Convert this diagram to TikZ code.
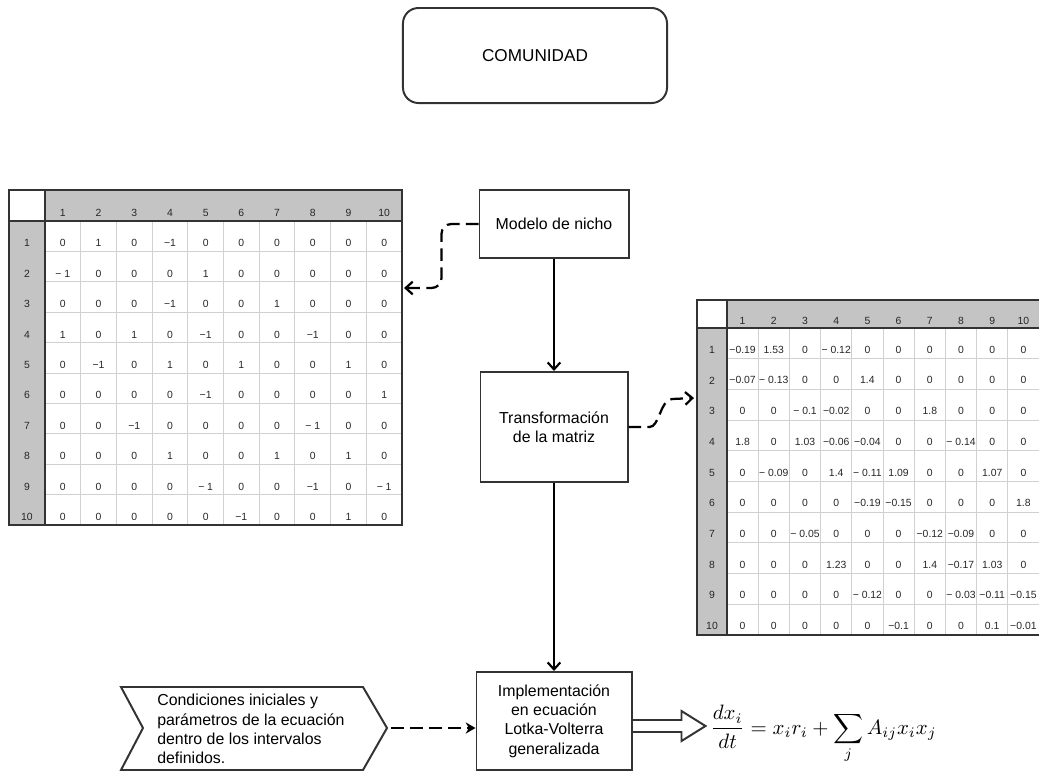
\documentclass[tikz,border=0pt]{standalone}
\usepackage{amsmath}
\usepackage{fontspec}
\setmainfont{Liberation Sans}
\usetikzlibrary{arrows.meta, positioning}

\definecolor{hdrgray}{HTML}{C4C4C4}
\definecolor{gridgray}{HTML}{D0D0D0}
\definecolor{boxline}{HTML}{333333}

\tikzset{
  flowbox/.style={draw=boxline, line width=1.4pt, align=center, inner sep=2pt, font=\fontsize{11.3}{13.8}\selectfont},
  cellnum/.style={inner sep=0pt, font=\fontsize{7.4}{9}\selectfont, text=black!85},
  gridline/.style={gridgray, line width=0.6pt},
  flowarrow/.style={line width=1.5pt, -{Straight Barb[length=5pt, width=9pt]}},
  dasharrow/.style={line width=1.6pt, dash pattern=on 9pt off 4.5pt, -{Straight Barb[length=5pt, width=9pt]}},
}

\begin{document}
\begin{tikzpicture}[x=0.025cm, y=-0.025cm]
\useasboundingbox (0,0) rectangle (1039,772);

\node[flowbox, rounded corners=11pt, minimum width=6.6cm, minimum height=2.375cm, font=\fontsize{12.2}{14}\selectfont] (comunidad) at (535,55.5) {COMUNIDAD};

% flow boxes
\node[flowbox, minimum width=3.725cm, minimum height=1.7cm] (nicho) at (554,224) {Modelo de nicho};
\node[flowbox, minimum width=3.675cm, minimum height=2.75cm] (trans) at (554,427) {Transformación\\de la matriz};
\node[flowbox, minimum width=3.875cm, minimum height=2.45cm] (impl) at (554,721) {Implementación\\en ecuación\\Lotka-Volterra\\generalizada};

% adjacency matrix (niche model)
\fill[hdrgray] (45,190) rectangle (402,221);
\fill[hdrgray] (9,221) rectangle (45,525);
\foreach \k in {1,...,9} {
  \draw[gridline] ({45+\k*35.7},221) -- ({45+\k*35.7},525);
  \draw[gridline] (45,{221+\k*30.4}) -- (402,{221+\k*30.4});
}
\draw[boxline, line width=1.8pt] (45,190) -- (45,525) (9,221) -- (402,221);
\draw[boxline, line width=1pt] (9,190) rectangle (402,525);
\foreach \k in {1,...,10} {
  \node[cellnum] (lc\k) at ({45+\k*35.7-17.85},213) {\k};
  \node[cellnum] (lr\k) at (27,{221+\k*30.4-8}) {\k};
}
\foreach \row [count=\i] in {
  {0,1,0,−1,0,0,0,0,0,0},
  {− 1,0,0,0,1,0,0,0,0,0},
  {0,0,0,−1,0,0,1,0,0,0},
  {1,0,1,0,−1,0,0,−1,0,0},
  {0,−1,0,1,0,1,0,0,1,0},
  {0,0,0,0,−1,0,0,0,0,1},
  {0,0,−1,0,0,0,0,− 1,0,0},
  {0,0,0,1,0,0,1,0,1,0},
  {0,0,0,0,− 1,0,0,−1,0,− 1},
  {0,0,0,0,0,−1,0,0,1,0}} {
  \foreach \v [count=\j] in \row
    \node[cellnum] (l\i-\j) at ({45+\j*35.7-17.85},{221+\i*30.4-8}) {\v};
}
\coordinate (lmat) at (404,288);

% transformed interaction matrix
\fill[hdrgray] (727,300) rectangle (1041,328);
\fill[hdrgray] (697,328) rectangle (727,635);
\foreach \k in {1,...,9} {
  \draw[gridline] ({727+\k*31.2},328) -- ({727+\k*31.2},635);
  \draw[gridline] (727,{328+\k*30.7}) -- (1041,{328+\k*30.7});
}
\draw[boxline, line width=1.8pt] (727,300) -- (727,635) (697,328) -- (1041,328);
\draw[boxline, line width=1pt] (697,300) rectangle (1042,635);
\foreach \k in {1,...,10} {
  \node[cellnum] (rc\k) at ({727+\k*31.2-15.6},321) {\k};
  \node[cellnum] (rr\k) at (712,{328+\k*30.7-9}) {\k};
}
\foreach \row [count=\i] in {
  {−0.19,1.53,0,− 0.12,0,0,0,0,0,0},
  {−0.07,− 0.13,0,0,1.4,0,0,0,0,0},
  {0,0,− 0.1,−0.02,0,0,1.8,0,0,0},
  {1.8,0,1.03,−0.06,−0.04,0,0,− 0.14,0,0},
  {0,− 0.09,0,1.4,− 0.11,1.09,0,0,1.07,0},
  {0,0,0,0,−0.19,−0.15,0,0,0,1.8},
  {0,0,− 0.05,0,0,0,−0.12,−0.09,0,0},
  {0,0,0,1.23,0,0,1.4,−0.17,1.03,0},
  {0,0,0,0,− 0.12,0,0,− 0.03,−0.11,−0.15},
  {0,0,0,0,0,−0.1,0,0,0.1,−0.01}} {
  \foreach \v [count=\j] in \row
    \node[cellnum] (r\i-\j) at ({727+\j*31.2-15.6},{328+\i*30.7-9}) {\v};
}
\coordinate (rmat) at (694,398);

% initial conditions
\coordinate (condtip) at (387,728);
\draw[boxline, line width=1.4pt, line join=miter] (121,687) -- (363,687) -- (condtip) -- (363,770) -- (121,770) -- (143,728) -- cycle;
\node[anchor=west, align=left, inner sep=0pt, font=\fontsize{11.3}{13.7}\selectfont] (cond) at (157,729) {Condiciones iniciales y\\parámetros de la ecuación\\dentro de los intervalos\\definidos.};

\node[anchor=base west, inner sep=0pt] (eq) at (710,734) {\scalebox{1.48}{$\displaystyle\frac{dx_i}{dt}=x_ir_i+\sum_j A_{ij}x_ix_j$}};

% connectors
\draw[flowarrow] (nicho) -- (trans);
\draw[flowarrow] (trans) -- (impl);
\draw[dasharrow, rounded corners=7pt] (nicho.west) -- ++(-37,0) |- (lmat);
\draw[dasharrow] (trans.east) -- ++(21,0) .. controls +(10,0) and +(-12,1) .. (672,399) -- (rmat);
\draw[line width=1.6pt, dash pattern=on 9pt off 4.5pt, -{Stealth[length=7pt, width=8pt]}, shorten <=3pt] (condtip) -- (condtip -| impl.west);
\draw[boxline, line width=1.4pt, line join=miter] (impl.east) ++(0,-1) -- ++(49,0) -- ++(0,-9) -- ++(24,15) -- ++(-24,15) -- ++(0,-9) -- ++(-49,0);

\end{tikzpicture}
\end{document}
